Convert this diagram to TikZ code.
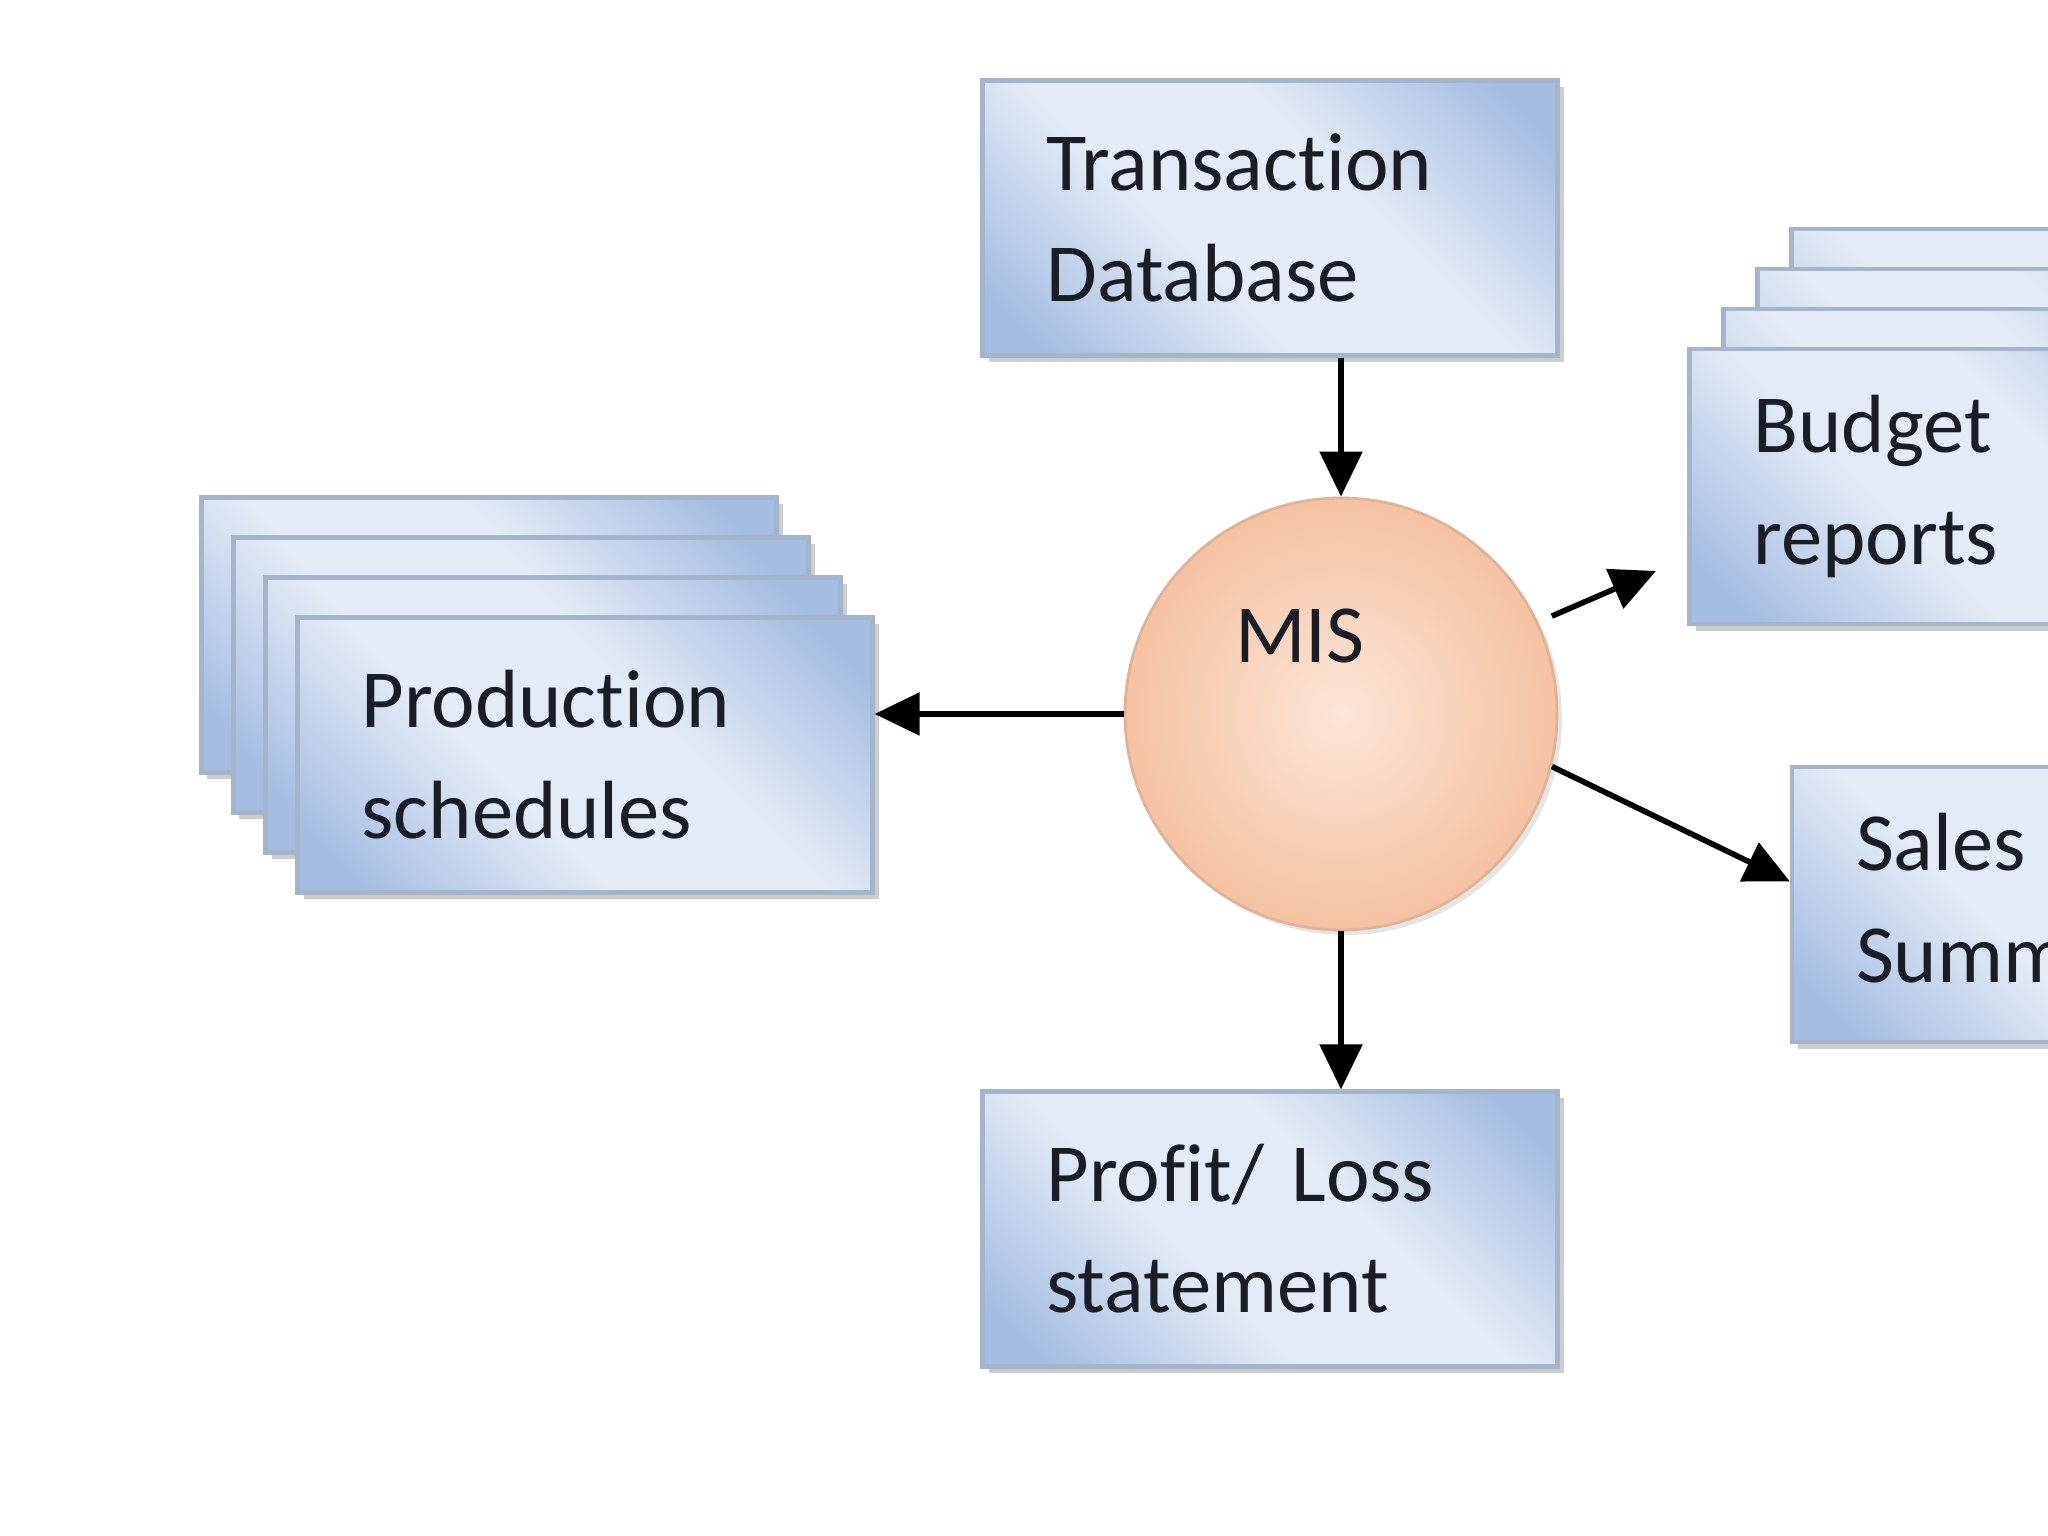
\documentclass[tikz,border=0pt]{standalone}
\usepackage{fontspec}
\setmainfont{Carlito}[Ligatures={NoCommon,NoContextual}]
\usetikzlibrary{arrows.meta,positioning,shadows}
\definecolor{boxdark}{HTML}{A5BDE2}
\definecolor{boxlight}{HTML}{E4EBF6}
\definecolor{boxedge}{HTML}{A3B4CB}
\definecolor{peachdark}{HTML}{F5C2A1}
\definecolor{peachlight}{HTML}{FCE6D8}
\definecolor{peachedge}{HTML}{DDB49A}
\definecolor{ink}{HTML}{1B1D26}

\pgfdeclareverticalshading{boxshade}{100bp}{color(0bp)=(boxdark); color(20bp)=(boxdark);
  color(41bp)=(boxlight); color(59bp)=(boxlight); color(80bp)=(boxdark); color(100bp)=(boxdark)}

\tikzset{
  infobox/.style={draw=boxedge, line width=1.2pt, shading=boxshade, shading angle=-45,
    minimum width=5.75cm, minimum height=2.75cm, text width=4.47cm, inner xsep=0.64cm,
    align=left, text=ink, font=\fontsize{23.5}{31.6}\selectfont,
    drop shadow={shadow xshift=0.06cm, shadow yshift=-0.07cm, fill=black!40, opacity=0.5}},
  misnode/.style={circle, minimum size=4.32cm, draw=peachedge, line width=0.8pt,
    inner color=peachlight, outer color=peachdark,
    drop shadow={shadow xshift=0.05cm, shadow yshift=-0.05cm, fill=black!25, opacity=0.4}},
  flow/.style={line width=1.6pt, -{Triangle[length=0.45cm, width=0.42cm]}},
}

\begin{document}
\begin{tikzpicture}
  \useasboundingbox (0,0) rectangle (20.48,15.36);
  \clip (0,0) rectangle (20.48,15.36);

  % centre
  \node[misnode] (MIS) at (13.41,8.22) {};
  \node[text=ink, font=\fontsize{23.5}{31.6}\selectfont] (MISlabel)
    at ([xshift=-0.41cm, yshift=0.78cm]MIS.center) {MIS};

  % single boxes
  \node[infobox] (TransDB) at (12.70,13.18) {Transaction\\Database};
  \node[infobox] (ProfitLoss) at (12.70,3.07) {Profit/ Loss\\statement};
  \node[infobox] (SalesSum) at (20.795,6.315) {Sales\\Summary};

  % stacked boxes
  \foreach \k in {3,2,1}
    \node[infobox] (ProdBack\k) at ({5.85-0.32*\k},{7.81+0.40*\k}) {};
  \node[infobox] (ProdSched) at (5.85,7.81) {Production\\schedules};

  \foreach \k in {3,2,1}
    \node[infobox] (BudgetBack\k) at ({19.77+0.34*\k},{10.495+0.40*\k}) {};
  \node[infobox] (BudgetRep) at (19.77,10.495) {Budget\\reports};

  % flows
  \coordinate (budgetin) at (16.56,9.65);
  \draw[flow] (MIS.north |- TransDB.south) -- (MIS.north);
  \draw[flow] (MIS.west) -- (MIS.west -| ProdSched.east);
  \draw[flow] (MIS.south) -- (MIS.south |- ProfitLoss.north);
  \draw[flow, shorten <=0.15cm] (MIS.25) -- (budgetin);
  \draw[flow] (MIS.-14) -- ([yshift=0.23cm]SalesSum.west);
\end{tikzpicture}
\end{document}
